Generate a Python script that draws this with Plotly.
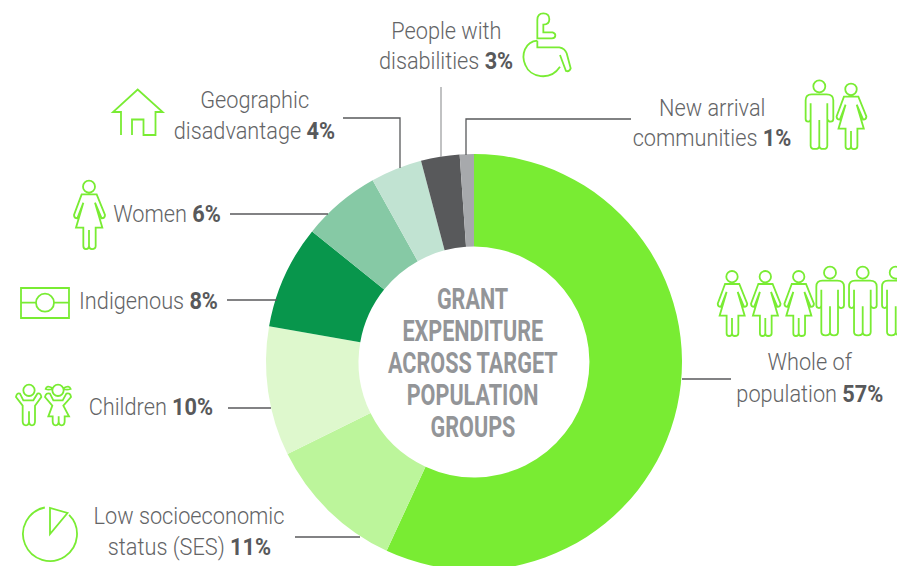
import re
import math
import plotly.graph_objects as go

# ---- data ----
groups = ["Whole of population", "Low socioeconomic status (SES)", "Children", "Indigenous",
          "Women", "Geographic disadvantage", "People with disabilities", "New arrival communities"]
shares = [56.9, 10.8, 10.05, 8.05, 6.1, 4.0, 3.0, 1.1]   # slice sizes
slice_colors = ["#79ec33", "#bcf59b", "#def8cd", "#08964c", "#86c9a5", "#c1e3d2", "#58595b", "#a7a9ac"]
title_lines = ["GRANT", "EXPENDITURE", "ACROSS TARGET", "POPULATION", "GROUPS"]

W, H = 897, 570
CX, CY, R = 474, 362, 208
GREEN = "#79ec33"
TXT = "#636466"
DARK = "#58595b"
FONT = "Roboto"

def tf(path, ox=0.0, oy=0.0, s=1.0):
    """Map a path in local units to paper fractions."""
    out = []
    is_x = True
    for t in re.findall(r"[MLQCZ]|-?\d+\.?\d*", path):
        if t in "MLQCZ":
            out.append(t)
            is_x = True
        else:
            v = float(t)
            if is_x:
                out.append(f"{(ox + v * s) / W:.5f}")
            else:
                out.append(f"{1 - (oy + v * s) / H:.5f}")
            is_x = not is_x
    return " ".join(out)

def circ(cx, cy, r):
    k = 0.5523 * r
    return (f"M{cx-r:.2f},{cy:.2f} C{cx-r:.2f},{cy-k:.2f} {cx-k:.2f},{cy-r:.2f} {cx:.2f},{cy-r:.2f} "
            f"C{cx+k:.2f},{cy-r:.2f} {cx+r:.2f},{cy-k:.2f} {cx+r:.2f},{cy:.2f} "
            f"C{cx+r:.2f},{cy+k:.2f} {cx+k:.2f},{cy+r:.2f} {cx:.2f},{cy+r:.2f} "
            f"C{cx-k:.2f},{cy+r:.2f} {cx-r:.2f},{cy+k:.2f} {cx-r:.2f},{cy:.2f} Z")

def arc(cx, cy, r, a0, a1, n=6):
    """Open circular arc, angles in degrees clockwise from the top."""
    step = (a1 - a0) / n
    k = 4 / 3 * math.tan(math.radians(step) / 4) * r
    pt = lambda a: (cx + r * math.sin(math.radians(a)), cy - r * math.cos(math.radians(a)))
    tan = lambda a: (math.cos(math.radians(a)), math.sin(math.radians(a)))
    x, y = pt(a0)
    p = f"M{x:.2f},{y:.2f}"
    for i in range(n):
        a, b = a0 + i * step, a0 + (i + 1) * step
        xa, ya = pt(a); xb, yb = pt(b); ta = tan(a); tb = tan(b)
        p += (f" C{xa + k*ta[0]:.2f},{ya + k*ta[1]:.2f} {xb - k*tb[0]:.2f},{yb - k*tb[1]:.2f} {xb:.2f},{yb:.2f}")
    return p

WOMAN = circ(0, 0, 18) + (" M-22,23 L-45,85 Q-45,95 -35,95 L-17,48 L-39,123 L-17,123 L-17,178 Q-17,187 -9,187 "
        "Q0,187 0,178 L0,130 L0,178 Q0,187 9,187 Q20,187 20,178 L20,123 L40,123 L18,48 L38,95 Q48,95 48,85 L23,23 Z")
MAN = circ(0, 0, 18) + (" M-23,24 Q-41,24 -41,42 L-41,98 Q-41,106 -33,106 Q-26,106 -26,98 L-26,51 L-26,178 "
      "Q-26,188 -13,188 Q0,188 0,178 L0,101 L0,178 Q0,188 12,188 Q24,188 24,178 L24,51 L24,98 Q26,106 34,106 "
      "Q42,106 42,98 L42,42 Q42,24 22,24 Z")
HOUSE = "M121,135 L121,112 L113,112 L137.7,89.5 L162.7,112 L155.5,112 L155.5,135 L143.5,135 L143.5,119.5 L132,119.5 L132,135"
WHEEL = ("M262,115 L262,60 Q262,40 280,40 Q298,40 298,58 Q298,74 280,74 L280,97 L308,97 Q316,100 316,106 Q316,115 306,115 Z "
         "M262,122 L262,142 L328,142 Q345,145 350,160 L362,205 Q358,216 348,213 L330,165 "
         "M262,122 C225,125 212,165 226,195 C240,232 300,245 330,200")
FLAG = "M21,288 L69,288 L69,318 L21,318 Z M21,302.7 L36,302.7 M54,302.7 L69,302.7 " + circ(45, 302.7, 9)
SES = "M50,534 L50,508 L67.5,513 Z " + arc(50, 534, 27, 45, 349)
BOY = circ(87, 322, 17) + (" M70,352 L60,332 Q50,328 48,342 L68,368 L68,415 Q68,427 78,427 Q87,427 87,415 L87,385 "
      "L87,415 Q87,427 96,427 Q105,427 105,415 L105,368 L124,342 Q122,328 112,332 L100,352 Z")
GIRL = circ(174, 322, 17) + (" M157,315 Q140,305 137,318 Q145,322 157,318 M191,315 Q208,305 212,318 Q200,322 191,318 "
       "M160,352 L150,332 Q138,328 135,342 L157,368 L145,400 L158,400 L158,415 Q158,427 167,427 Q176,427 176,415 L176,400 "
       "L176,415 Q176,427 185,427 Q194,427 194,415 L194,400 L207,400 L190,368 L213,342 Q211,328 199,332 L188,352 Z")

icons = [
    tf(HOUSE),
    tf(WOMAN, 89, 186.7, 1/3),
    tf(WOMAN, 851, 89.3, 0.32),
    tf(MAN, 819.3, 86.3, 1/3),
    tf(WHEEL, 450, 0, 1/3),
    tf(FLAG),
    tf(SES),
    tf(BOY, 0, 283, 1/3),
    tf(GIRL, 0, 283, 1/3),
] + [tf(WOMAN, x, 276.7, 0.317) for x in (732, 765.3, 798.7)] + [tf(MAN, x, 272.7, 1/3) for x in (830, 862.7, 895.7)]

leaders = [
    ("M343,118 L400,118 L400,168", DARK),
    ("M441,87 L441,157", "#a0a1a3"),
    ("M631,119 L466,119 L466,155", DARK),
    ("M230,214 L328,214", DARK),
    ("M227,300 L277,300", DARK),
    ("M228,408 L271,408", DARK),
    ("M295,537 L360,537", DARK),
    ("M682,379 L731,379", DARK),
]

shapes = [dict(type="path", xref="paper", yref="paper", path=p, fillcolor="rgba(0,0,0,0)",
               line=dict(color=GREEN, width=1.8)) for p in icons]
shapes += [dict(type="path", xref="paper", yref="paper", path=tf(p), fillcolor="rgba(0,0,0,0)",
                line=dict(color=c, width=1.3)) for p, c in leaders]

def bold(v):
    return f'<b><span style="color:{DARK}">{v}%</span></b>'

labels = [
    (446, 32, "People with"), (446, 61, "disabilities " + bold(3)),
    (255, 100, "Geographic"), (255, 131, "disadvantage " + bold(4)),
    (712, 108, "New arrival"), (712, 138, "communities " + bold(1)),
    (167, 214, "Women " + bold(6)),
    (148, 301, "Indigenous " + bold(8)),
    (151, 407, "Children " + bold(10)),
    (189, 516, "Low socioeconomic"), (189, 547, "status (SES) " + bold(11)),
    (810, 362, "Whole of"), (810, 394, "population " + bold(57)),
]

ann = [dict(x=x / W, y=1 - y / H, xref="paper", yref="paper", text=t, showarrow=False, align="center",
            xanchor="center", yanchor="middle", font=dict(family=FONT, size=23, color=TXT, weight=300))
       for x, y, t in labels]
n_labels = len(ann)
for line, y in zip(title_lines, (298, 330, 362, 394, 426)):
    ann.append(dict(x=472.5 / W, y=1 - y / H, xref="paper", yref="paper", showarrow=False, align="center",
                    text=f"<b>{line}</b>", xanchor="center", yanchor="middle",
                    font=dict(family=FONT, size=30, color="#939598")))

fig = go.Figure(go.Pie(
    labels=groups, values=shares, hole=0.555, sort=False, direction="clockwise", rotation=0,
    marker=dict(colors=slice_colors, line=dict(width=0)), textinfo="none", hoverinfo="skip",
    domain=dict(x=[(CX - R) / W, (CX + R) / W], y=[(H - CY - R) / H, (H - CY + R) / H]),
))
fig.update_layout(width=W, height=H, margin=dict(l=0, r=0, t=0, b=0), showlegend=False,
                  paper_bgcolor="white", shapes=shapes, annotations=ann)

# narrow the glyphs horizontally (no condensed face is installed)
squeeze = """
document.body.style.margin='0';document.documentElement.style.overflow='hidden';
document.querySelectorAll('.annotation').forEach(function(a){
  var i=+a.getAttribute('data-index'), t=a.querySelector('text');
  if(!t) return;
  var b=t.getBBox(), c=b.x+b.width/2, s=i<%d?0.945:0.72;
  t.setAttribute('transform','translate('+c+' 0) scale('+s+' 1) translate('+(-c)+' 0)');
});
""" % n_labels
fig.write_html("out.html", config=dict(displayModeBar=False), post_script=squeeze)
